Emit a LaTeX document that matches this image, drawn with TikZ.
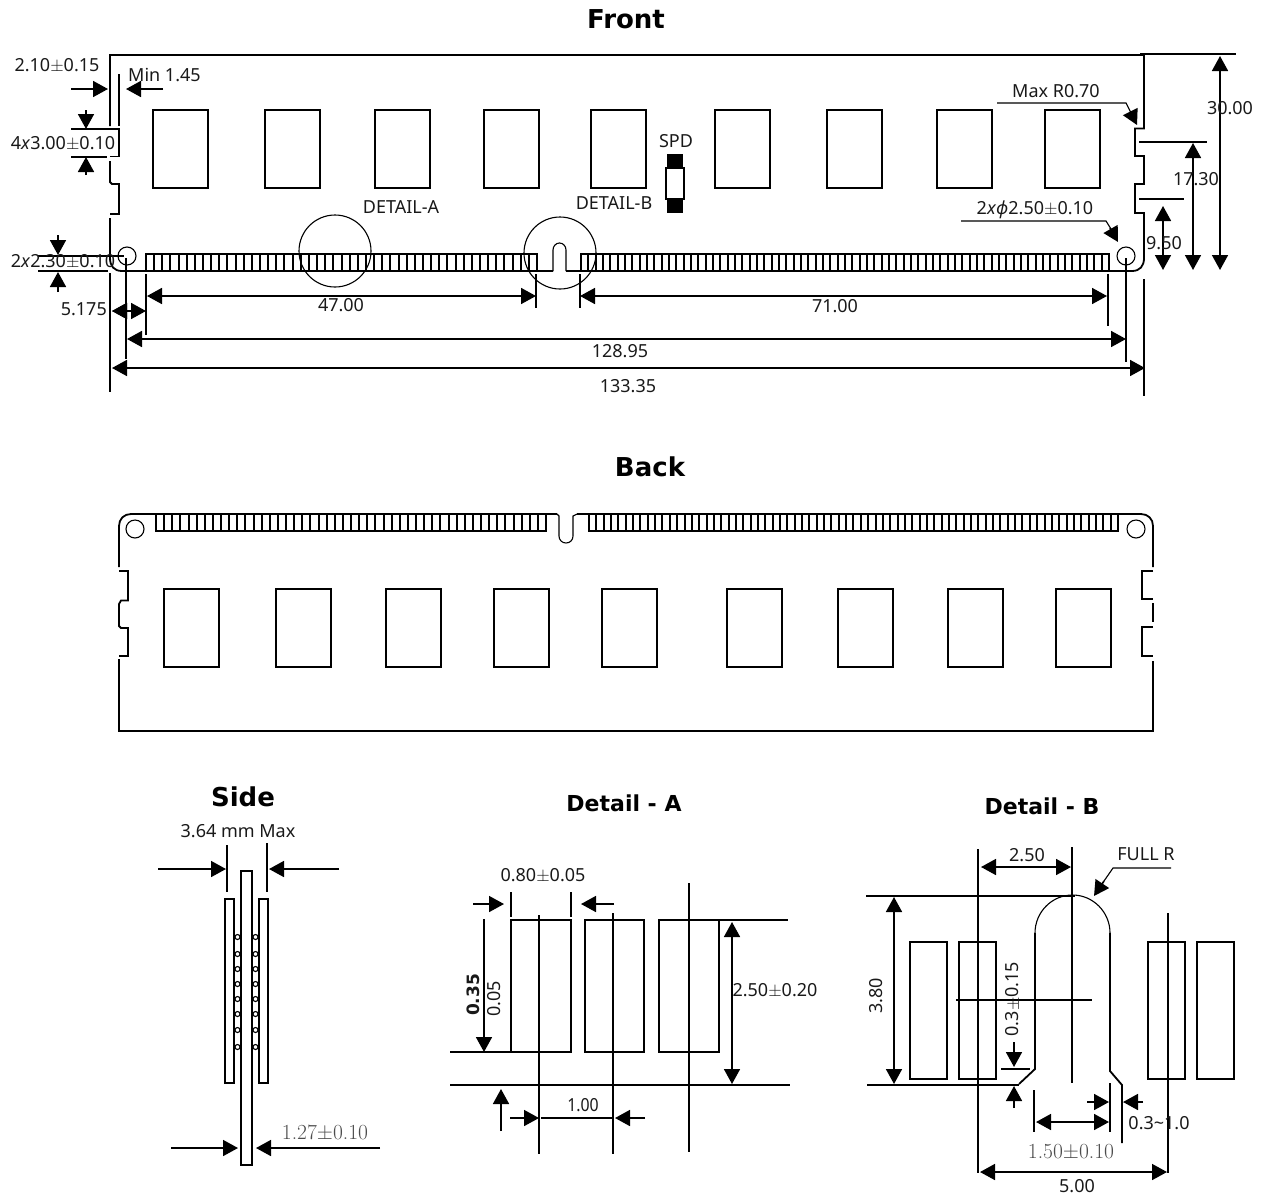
\documentclass[tikz,border=0pt]{standalone}
\usepackage{fontspec}
\setsansfont{Noto Sans}
\newfontfamily\titlefont{DejaVu Sans}
\usetikzlibrary{arrows.meta}

\begin{document}
\begin{tikzpicture}[x=1pt,y=-1pt]

\tikzset{outl/.style = {line width=1.8pt}}
\tikzset{fine/.style = {line width=1.1pt}}
\tikzset{dim/.style = {line width=1.7pt,>={Triangle[length=15pt,width=16pt]}}}
\tikzset{lbl/.style = {font=\sffamily\fontsize{18}{20}\selectfont,inner sep=0pt,text=black!90}}
\tikzset{serifnum/.style = {font=\rmfamily\fontsize{21.5}{23}\selectfont,inner sep=0pt,text=black!70}}
\tikzset{bigtitle/.style = {font=\titlefont\bfseries\fontsize{26}{28}\selectfont,inner sep=0pt}}
\tikzset{smalltitle/.style = {font=\titlefont\bfseries\fontsize{22}{24}\selectfont,inner sep=0pt}}

\useasboundingbox (0,0) rectangle (1265,1197);

%titles
\node[bigtitle] (frontT) at (626,19) {Front};
\node[bigtitle] (backT) at (650,467) {Back};
\node[bigtitle] (sideT) at (243,797) {Side};
\node[smalltitle] (detailAT) at (624,803) {Detail - A};
\node[smalltitle] (detailBT) at (1042,806) {Detail - B};

%front board
\draw[outl] (110,126) -- (110,55) -- (1144,55) -- (1144,128.5) -- (1135,128.5) -- (1135,156) -- (1144,156)
  -- (1144,184) -- (1135,184) -- (1135,213) -- (1144,213) -- (1144,258)
  .. controls (1144,266) and (1140,271) .. (1132,271) -- (581,271);
\draw[outl] (107,129) -- (119,129) -- (119,156.5) -- (110,156.5);
\draw[outl] (110,161) -- (110,182) -- (112,184) -- (119,184) -- (119,214) -- (110,214);
\draw[outl] (110,218) -- (110,258) .. controls (110,266) and (114,271) .. (122,271) -- (553,271);
\foreach \x in {153,265,375,484,591,715,827,937,1045}
  \draw[outl] (\x,110) rectangle ++(55,78);
\draw[fine] (553,271) -- (553,250) .. controls (553,246) and (556,243) .. (559.5,243)
  .. controls (563,243) and (566,246) .. (566,250) -- (566,271);
\draw[outl] (566,271) -- (581,271);
\draw[outl] (146,254) rectangle (537,271);
\draw[outl] (581,254) rectangle (1109,271);
\foreach \i in {1,...,47} {
  \pgfmathsetmacro\tabx{round(146+\i*8.146)}
  \draw[outl] (\tabx,254) -- (\tabx,271);
}
\foreach \i in {1,...,71} {
  \pgfmathsetmacro\tabx{round(581+\i*7.333)}
  \draw[outl] (\tabx,254) -- (\tabx,271);
}
\draw[fine] (127,256) circle[radius=9pt];
\draw[fine] (1126,256) circle[radius=9pt];
\draw[fine] (335,251) circle[radius=36pt];
\draw[fine] (560,253) circle[radius=36pt];
%spd
\fill (667,154) rectangle (683,213);
\draw[outl,fill=white] (666,168) rectangle (684,199);
\node[lbl] (spd) at (676,141) {SPD};
\node[lbl] (detailA) at (401,207) {DETAIL-A};
\node[lbl] (detailB) at (614,203) {DETAIL-B};

%front left dimensions
\draw[outl] (119,74) -- (119,126);
\draw[dim,->] (71,89) -- (108,89);
\draw[dim,->] (163,89) -- (126,89);
\node[lbl] (w210) at (57,66) {2.10$\pm$0.15};
\node[lbl,anchor=west] (w145) at (128,75) {Min 1.45};
\draw[outl] (71,129) -- (107,129);
\draw[outl] (71,157) -- (107,157);
\draw[dim,->] (86,110) -- (86,129);
\draw[dim,->] (86,175) -- (86,157);
\node[lbl] (h300) at (63,144) {4\textit{x}3.00$\pm$0.10};
\draw[outl] (38,256) -- (124,256);
\draw[outl] (38,271) -- (108,271);
\draw[dim,->] (58,235) -- (58,255);
\draw[dim,->] (58,292) -- (58,272);
\node[lbl] (h230) at (63,262) {2\textit{x}2.30$\pm$0.10};

%front bottom dimensions
\draw[outl] (110,273) -- (110,392);
\draw[outl] (1144,279) -- (1144,396);
\draw[outl] (126,258) -- (126,359);
\draw[outl] (1126,258) -- (1126,362);
\draw[outl] (146,274) -- (146,335);
\draw[outl] (536,274) -- (536,308);
\draw[outl] (580,274) -- (580,308);
\draw[outl] (1108,274) -- (1108,326);
\draw[dim,<->] (112,311) -- (146,311);
\draw[dim,->] (126,311) -- (112,311);
\draw[dim,<->] (147,296) -- (536,296);
\draw[dim,<->] (580,296) -- (1107,296);
\draw[dim,<->] (127,339) -- (1126,339);
\draw[dim,<->] (112,368) -- (1145,368);
\node[lbl,anchor=east] (l5175) at (107,309) {5.175};
\node[lbl] (l4700) at (341,305) {47.00};
\node[lbl] (l7100) at (835,306) {71.00};
\node[lbl] (l12895) at (620,351) {128.95};
\node[lbl] (l13335) at (628,386) {133.35};

%front right dimensions
\draw[outl] (1140,54) -- (1236,54);
\draw[outl] (1139,142) -- (1207,142);
\draw[outl] (1139,199) -- (1184,199);
\draw[dim,<->] (1220,56) -- (1220,270);
\draw[dim,<->] (1193,143) -- (1193,270);
\draw[dim,<->] (1163,206) -- (1163,270);
\node[lbl] (h3000) at (1230,108) {30.00};
\node[lbl] (h1730) at (1196,179) {17.30};
\node[lbl] (h950) at (1164,243) {9.50};
\node[lbl] (maxR) at (1056,91) {Max R0.70};
\draw[fine] (997,103) -- (1126,103) -- (1132,115);
\draw[dim,->] (1131,113) -- (1137,125);
\node[lbl] (hole) at (1035,210) {2\textit{x}\textit{ϕ}2.50$\pm$0.10};
\draw[fine] (961,221) -- (1106,221) -- (1111,229);
\draw[dim,->] (1110,228) -- (1118,242);

%back board
\draw[outl] (119,567) -- (119,526) .. controls (119,519) and (124,514) .. (131,514) -- (557,514);
\draw[outl] (577,514) -- (1141,514) .. controls (1148,514) and (1153,519) .. (1153,526) -- (1153,567);
\draw[outl] (1153,571) -- (1142,571) -- (1142,599) -- (1153,599);
\draw[outl] (1153,603) -- (1153,622);
\draw[outl] (1153,627) -- (1142,627) -- (1142,656) -- (1153,656);
\draw[outl] (1153,661) -- (1153,731) -- (119,731) -- (119,659);
\draw[outl] (119,656) -- (128,656) -- (128,628) -- (121,628) -- (119,626) -- (119,604) -- (121,600.5) -- (128,600.5) -- (128,571) -- (119,571);
\foreach \x in {164,276,386,494,602,727,838,948,1056}
  \draw[outl] (\x,589) rectangle ++(55,78);
\draw[fine] (557,514) -- (559,516) -- (559,536) .. controls (559,540) and (562,543) .. (566,543)
  .. controls (570,543) and (573,540) .. (573,536) -- (573,516) -- (577,514);
\draw[outl] (156,514) rectangle (546,531);
\draw[outl] (589,514) rectangle (1118,531);
\foreach \i in {1,...,47} {
  \pgfmathsetmacro\tabx{round(156+\i*8.125)}
  \draw[outl] (\tabx,514) -- (\tabx,531);
}
\foreach \i in {1,...,71} {
  \pgfmathsetmacro\tabx{round(589+\i*7.347)}
  \draw[outl] (\tabx,514) -- (\tabx,531);
}
\draw[fine] (135,529) circle[radius=9pt];
\draw[fine] (1136,529) circle[radius=9pt];

%side view
\draw[outl] (241,871) rectangle (252,1165);
\draw[outl] (225,899) rectangle (234,1083);
\draw[outl] (259,899) rectangle (268,1083);
\foreach \y in {937,954,969,984,999,1014,1030,1047} {
  \draw[fine] (237.5,\y) circle[radius=2.5pt];
  \draw[fine] (255.5,\y) circle[radius=2.5pt];
}
\draw[outl] (227,845) -- (227,892);
\draw[outl] (267,843) -- (267,892);
\draw[dim,->] (158,869) -- (226,869);
\draw[dim,->] (339,869) -- (269,869);
\draw[dim,->] (171,1148) -- (238,1148);
\draw[dim,->] (380,1148) -- (256,1148);
\node[lbl] (maxW) at (238,831) {3.64 mm Max};
\node[serifnum] (thick) at (325,1133) {1.27$\pm$0.10};

%detail a
\draw[outl] (511,920) rectangle (571,1052);
\draw[outl] (585,920) rectangle (644,1052);
\draw[outl] (659,920) rectangle (719,1052);
\draw[outl] (719,920) -- (788,920);
\draw[outl] (450,1052) -- (511,1052);
\draw[outl] (450,1085) -- (790,1085);
\draw[outl] (539,915) -- (539,1154);
\draw[outl] (613,913) -- (613,1154);
\draw[outl] (689,883) -- (689,1152);
\draw[outl] (511,892) -- (511,917);
\draw[outl] (571,892) -- (571,917);
\draw[dim,->] (473,904) -- (504,904);
\draw[dim,->] (614,904) -- (581,904);
\draw[dim,->] (484,919) -- (484,1052);
\draw[dim,->] (501,1131) -- (501,1089);
\draw[dim,->] (510,1118) -- (539,1118);
\draw[dim,->] (645,1118) -- (615,1118);
\draw[outl] (541,1118) -- (613,1118);
\draw[dim,<->] (732,922) -- (732,1084);
\node[lbl] (pitchW) at (543,876) {0.80$\pm$0.05};
\node[lbl,rotate=90,font=\titlefont\bfseries\fontsize{17}{20}\selectfont] (h035) at (473,995) {0.35};
\node[lbl,rotate=90] (h005) at (494,999) {0.05};
\node[lbl,xscale=.88] (p100) at (583,1105) {1.00};
\node[lbl] (h250) at (775,991) {2.50$\pm$0.20};

%detail b
\foreach \x/\w in {910/37,959/37,1148/37,1197/37}
  \draw[outl] (\x,942) rectangle ++(\w,137);
\draw[fine] (1035,933) .. controls (1035,912) and (1052,895) .. (1072.5,895)
  .. controls (1093,895) and (1110,912) .. (1110,933);
\draw[outl] (1035,933) -- (1035,1069) -- (1019,1084);
\draw[outl] (1110,933) -- (1110,1071) -- (1122,1085) -- (1122,1143);
\draw[outl] (866,896) -- (1075,896);
\draw[outl] (867,1085) -- (1019,1085);
\draw[outl] (956,1000) -- (1092,1000);
\draw[outl] (1001,1069) -- (1030,1069);
\draw[outl] (978,849) -- (978,1173);
\draw[outl] (1072,847) -- (1072,1083);
\draw[outl] (1168,913) -- (1168,1173);
\draw[outl] (1034,1090) -- (1034,1132);
\draw[outl] (1110,1083) -- (1110,1132);
\draw[dim,<->] (981,867) -- (1071,867);
\draw[dim,<->] (894,897) -- (894,1084);
\draw[dim,->] (1014,1042) -- (1014,1067);
\draw[dim,->] (1014,1108) -- (1014,1086);
\draw[dim,->] (1087,1102) -- (1109,1102);
\draw[dim,->] (1143,1102) -- (1123,1102);
\draw[dim,<->] (1036,1122) -- (1109,1122);
\draw[dim,<->] (980,1172) -- (1167,1172);
\draw[fine] (1171,868) -- (1113,868) -- (1104,881);
\draw[dim,->] (1104,881) -- (1094,896);
\node[lbl] (w250) at (1027,855) {2.50};
\node[lbl] (fullR) at (1146,854) {FULL R};
\node[lbl,rotate=90] (h380) at (876,996) {3.80};
\node[lbl,rotate=90] (h03) at (1013,999) {0.3$\pm$0.15};
\node[lbl] (w03) at (1159,1123) {0.3\textasciitilde1.0};
\node[serifnum] (w150) at (1071,1152) {1.50$\pm$0.10};
\node[lbl] (w500) at (1077,1186) {5.00};

\end{tikzpicture}
\end{document}
